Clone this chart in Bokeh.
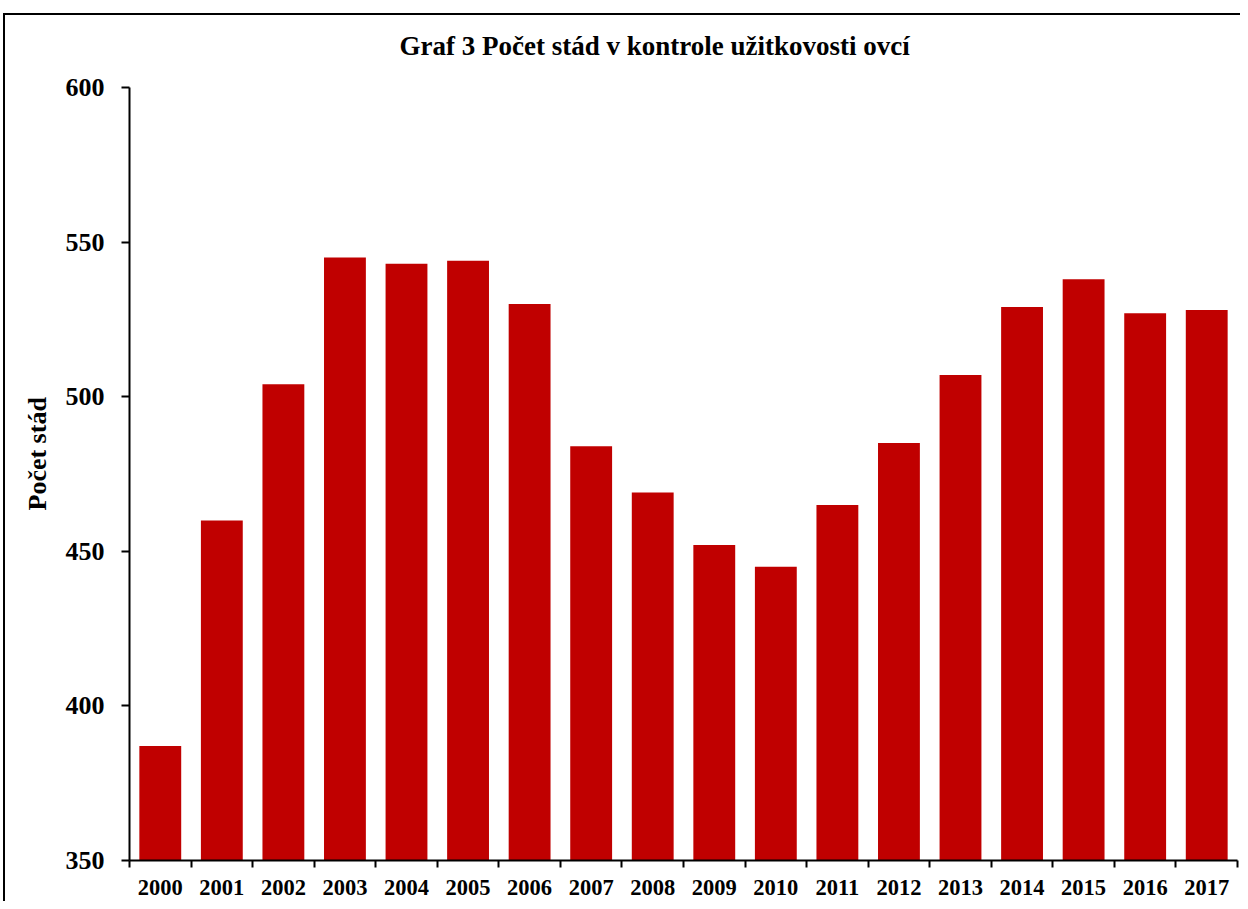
from bokeh.plotting import figure
from bokeh.models import FixedTicker, Range1d, ColumnDataSource, Title
from bokeh.embed import file_html
from bokeh.resources import INLINE

years = ["2000", "2001", "2002", "2003", "2004", "2005", "2006", "2007", "2008",
         "2009", "2010", "2011", "2012", "2013", "2014", "2015", "2016", "2017"]
herds = [387, 460, 504, 545, 543, 544, 530, 484, 469, 452, 445, 465, 485, 507, 529, 538, 527, 528]
y_ticks = [350, 400, 450, 500, 550, 600]
title_text = "Graf  3 Počet stád v kontrole užitkovosti ovcí"
y_label = "Počet stád"

FONT = "Liberation Serif"
n = len(years)
xs = [i + 0.5 for i in range(n)]
src = ColumnDataSource(dict(x=xs, top=herds, year=years))

p = figure(frame_width=1108, frame_height=773, output_backend="svg", toolbar_location=None,
           x_range=Range1d(0, n), y_range=Range1d(350, 600),
           min_border_left=129, min_border_right=3, min_border_top=87, min_border_bottom=41,
           title=title_text)
p.vbar(x="x", top="top", bottom=350, width=0.68, source=src,
       fill_color="#C00000", line_color=None)

p.title.text_font = FONT
p.title.text_font_size = "27px"
p.title.text_font_style = "bold"
p.title.align = "left"
p.title.offset = 270
p.title.text_color = "black"
p.title.standoff = 53

p.grid.visible = False
p.outline_line_color = None
p.background_fill_color = "white"
p.border_fill_color = None

ya = p.yaxis[0]
ya.ticker = FixedTicker(ticks=y_ticks)
ya.major_tick_out = 8
ya.major_tick_in = 0
ya.minor_tick_out = 0
ya.minor_tick_in = 0
ya.axis_line_width = 2
ya.axis_line_color = "black"
ya.major_tick_line_width = 2
ya.major_tick_line_color = "black"
ya.major_label_text_font = FONT
ya.major_label_text_font_size = "26px"
ya.major_label_text_font_style = "bold"
ya.major_label_text_color = "black"
ya.major_label_standoff = 17

# y-axis title as a left-side title, shifted upward like the original
p.add_layout(Title(text=y_label, align="left", offset=350, standoff=21,
                   text_font=FONT, text_font_size="26px", text_font_style="bold",
                   text_color="black"), "left")

xa = p.xaxis[0]
xa.ticker = FixedTicker(ticks=xs, minor_ticks=list(range(n + 1)))
xa.major_label_overrides = {x: y for x, y in zip(xs, years)}
xa.major_tick_out = 0
xa.major_tick_in = 0
xa.minor_tick_out = 7
xa.minor_tick_in = 0
xa.minor_tick_line_width = 2
xa.minor_tick_line_color = "black"
xa.axis_line_width = 2
xa.axis_line_color = "black"
xa.major_label_text_font = FONT
xa.major_label_text_font_size = "22.5px"
xa.major_label_text_font_style = "bold"
xa.major_label_text_color = "black"
xa.major_label_standoff = 12

p.styles = {
    "background": ("linear-gradient(black, black) 3px 13px / 2px 100% no-repeat, "
                   "linear-gradient(black, black) 3px 13px / 100% 2px no-repeat, white"),
}

open("out.html", "w").write(file_html(p, INLINE))
